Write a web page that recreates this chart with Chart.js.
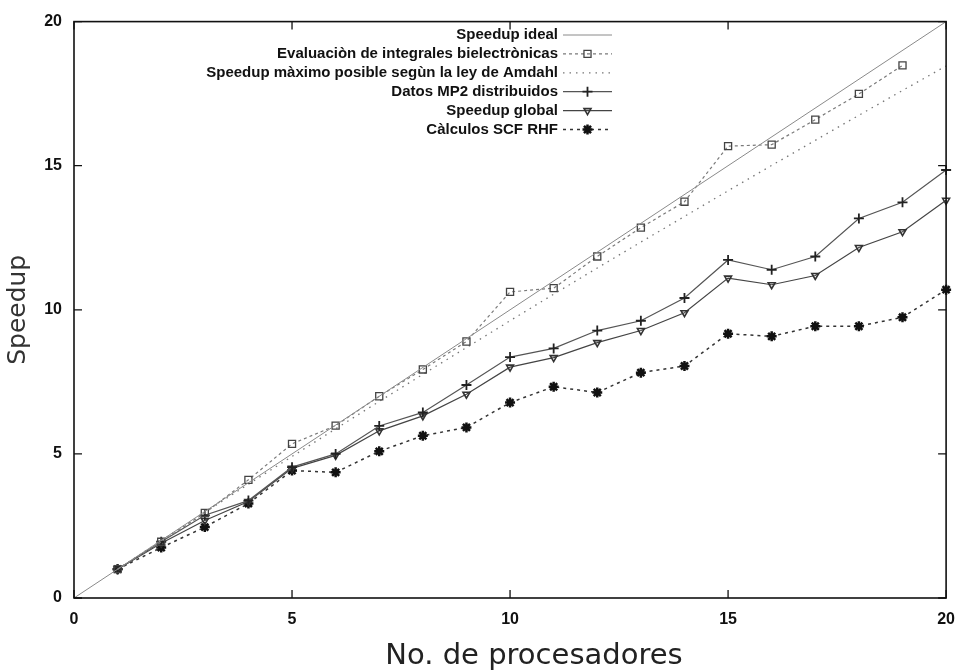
<!DOCTYPE html>
<html>
<head>
<meta charset="utf-8">
<script src="https://cdn.jsdelivr.net/npm/chart.js@4/dist/chart.umd.min.js"></script>
<style>
html,body{margin:0;padding:0;background:#fff;}
#wrap{width:967px;height:671px;}
</style>
</head>
<body>
<div id="wrap"><canvas id="c" width="967" height="671"></canvas></div>
<script>
// ---- data ----
const procs = [1,2,3,4,5,6,7,8,9,10,11,12,13,14,15,16,17,18,19,20];
const idealX = [0, 20];
const idealY = [0, 20];
const evalX = [1,2,3,4,5,6,7,8,9,10,11,12,13,14,15,16,17,18,19];
const evalIntegrales = [1.0,1.95,2.95,4.1,5.35,5.98,7.0,7.93,8.9,10.62,10.75,11.85,12.85,13.75,15.68,15.73,16.6,17.49,18.48];
const amdahlMax = [1.0,1.99,2.97,3.95,4.91,5.87,6.82,7.76,8.69,9.62,10.54,11.45,12.35,13.24,14.13,15.01,15.88,16.75,17.61,18.46];
const datosMP2 = [1.0,1.95,2.87,3.38,4.54,5.0,5.97,6.44,7.39,8.36,8.66,9.28,9.62,10.41,11.73,11.39,11.85,13.17,13.73,14.85];
const speedupGlobal = [1.0,1.9,2.69,3.35,4.5,4.95,5.8,6.32,7.07,8.01,8.34,8.86,9.28,9.9,11.1,10.87,11.19,12.16,12.71,13.8];
const calculosSCF = [1.0,1.75,2.46,3.28,4.42,4.36,5.09,5.63,5.92,6.78,7.33,7.13,7.82,8.05,9.17,9.08,9.43,9.43,9.74,10.7];
const seriesLabels = [
  'Speedup ideal',
  'Evaluaciòn de integrales bielectrònicas',
  'Speedup màximo posible segùn la ley de Amdahl',
  'Datos MP2 distribuidos',
  'Speedup global',
  'Càlculos SCF RHF'
];
const xTicks = [0,5,10,15,20];
const yTicks = [0,5,10,15,20];
const xTitle = 'No. de procesadores';
const yTitle = 'Speedup';

const pts = (xs, ys) => xs.map((x, i) => ({x: x, y: ys[i]}));

const datasets = [
  {label: seriesLabels[0], data: pts(idealX, idealY), borderColor: '#8a8a8a', borderWidth: 1, pointRadius: 0, borderDash: []},
  {label: seriesLabels[1], data: pts(evalX, evalIntegrales), borderColor: '#7a7a7a', borderWidth: 1.2, borderDash: [3,3],
   pointStyle: 'rect', pointRadius: 5, pointBorderColor: '#444', pointBackgroundColor: 'rgba(255,255,255,0)', pointBorderWidth: 1.3},
  {label: seriesLabels[2], data: pts(procs, amdahlMax), borderColor: '#777', borderWidth: 1.3, borderDash: [1.5,5], pointRadius: 0},
  {label: seriesLabels[3], data: pts(procs, datosMP2), borderColor: '#555', borderWidth: 1.2, borderDash: [],
   pointStyle: 'cross', pointRadius: 5, pointBorderColor: '#222', pointBorderWidth: 1.8},
  {label: seriesLabels[4], data: pts(procs, speedupGlobal), borderColor: '#444', borderWidth: 1.2, borderDash: [],
   pointStyle: 'triangle', pointRotation: 180, pointRadius: 4, pointBorderColor: '#333', pointBackgroundColor: 'rgba(255,255,255,0)', pointBorderWidth: 1.6},
  {label: seriesLabels[5], data: pts(procs, calculosSCF), borderColor: '#333', borderWidth: 1.5, borderDash: [3,4],
   pointStyle: 'star', pointRadius: 5, pointBorderColor: '#111', pointBorderWidth: 2.5}
];
datasets.forEach(d => { d.fill = false; d.tension = 0; d.clip = false; d.pointHoverRadius = d.pointRadius; });

const framePlugin = {
  id: 'frameTicksLegend',
  afterDraw(chart) {
    const ctx = chart.ctx;
    const a = chart.chartArea;
    const xs = chart.scales.x, ys = chart.scales.y;
    ctx.save();
    ctx.setLineDash([]);
    ctx.strokeStyle = '#111';
    ctx.lineWidth = 1.6;
    ctx.strokeRect(a.left, a.top, a.right - a.left, a.bottom - a.top);
    ctx.lineWidth = 1.3;
    const tl = 8;
    ctx.beginPath();
    xTicks.forEach(v => {
      const px = xs.getPixelForValue(v);
      ctx.moveTo(px, a.bottom); ctx.lineTo(px, a.bottom - tl);
      ctx.moveTo(px, a.top); ctx.lineTo(px, a.top + tl);
    });
    yTicks.forEach(v => {
      const py = ys.getPixelForValue(v);
      ctx.moveTo(a.left, py); ctx.lineTo(a.left + tl, py);
      ctx.moveTo(a.right, py); ctx.lineTo(a.right - tl, py);
    });
    ctx.stroke();

    // x axis title (offset to the right as in the reference)
    ctx.font = '29px "DejaVu Sans", sans-serif';
    ctx.fillStyle = '#222';
    ctx.textAlign = 'center';
    ctx.textBaseline = 'middle';
    ctx.fillText(xTitle, 534, 656);

    // legend (gnuplot style: right-aligned text, sample to the right)
    const textRight = 558, sx0 = 563, sx1 = 612, y0 = 35, dy = 18.9;
    ctx.font = 'bold 15px "Liberation Sans", Arial, sans-serif';
    ctx.textAlign = 'right';
    ctx.textBaseline = 'middle';
    chart.data.datasets.forEach((d, i) => {
      const y = y0 + i * dy;
      ctx.fillStyle = '#111';
      ctx.fillText(d.label, textRight, y);
      ctx.beginPath();
      ctx.setLineDash(d.borderDash || []);
      ctx.strokeStyle = d.borderColor;
      ctx.lineWidth = d.borderWidth;
      ctx.moveTo(sx0, y); ctx.lineTo(sx1, y);
      ctx.stroke();
      ctx.setLineDash([]);
      if (d.pointRadius > 0) {
        ctx.strokeStyle = d.pointBorderColor;
        ctx.fillStyle = d.pointBackgroundColor || d.pointBorderColor;
        ctx.lineWidth = d.pointBorderWidth;
        Chart.helpers.drawPoint(ctx, {pointStyle: d.pointStyle, rotation: d.pointRotation || 0,
          radius: d.pointRadius, borderWidth: d.pointBorderWidth}, (sx0 + sx1) / 2, y);
      }
    });
    ctx.restore();
  }
};

const tickFont = {family: '"Liberation Sans", Arial, sans-serif', size: 16, weight: 'bold'};

new Chart(document.getElementById('c'), {
  type: 'line',
  data: {datasets: datasets},
  options: {
    responsive: false,
    animation: false,
    devicePixelRatio: 1,
    layout: {padding: {left: 0, right: 10, top: 19, bottom: 0}},
    plugins: {legend: {display: false}, tooltip: {enabled: false}},
    events: [],
    scales: {
      x: {
        type: 'linear', min: 0, max: 20,
        afterBuildTicks: s => { s.ticks = xTicks.map(v => ({value: v})); },
        afterFit: s => { s.height = 73; },
        grid: {display: false, drawTicks: false},
        border: {display: false},
        ticks: {font: tickFont, color: '#111', padding: 12, maxRotation: 0, autoSkip: false},
        title: {display: false, text: xTitle}
      },
      y: {
        type: 'linear', min: 0, max: 20,
        afterBuildTicks: s => { s.ticks = yTicks.map(v => ({value: v})); },
        afterFit: s => { s.width = 74; },
        grid: {display: false, drawTicks: false},
        border: {display: false},
        ticks: {font: tickFont, color: '#111', padding: 12, autoSkip: false},
        title: {display: true, text: yTitle, color: '#333',
          font: {family: '"DejaVu Sans", sans-serif', size: 25, lineHeight: 1},
          padding: {top: 6, bottom: 0}}
      }
    }
  },
  plugins: [framePlugin]
});
</script>
</body>
</html>
